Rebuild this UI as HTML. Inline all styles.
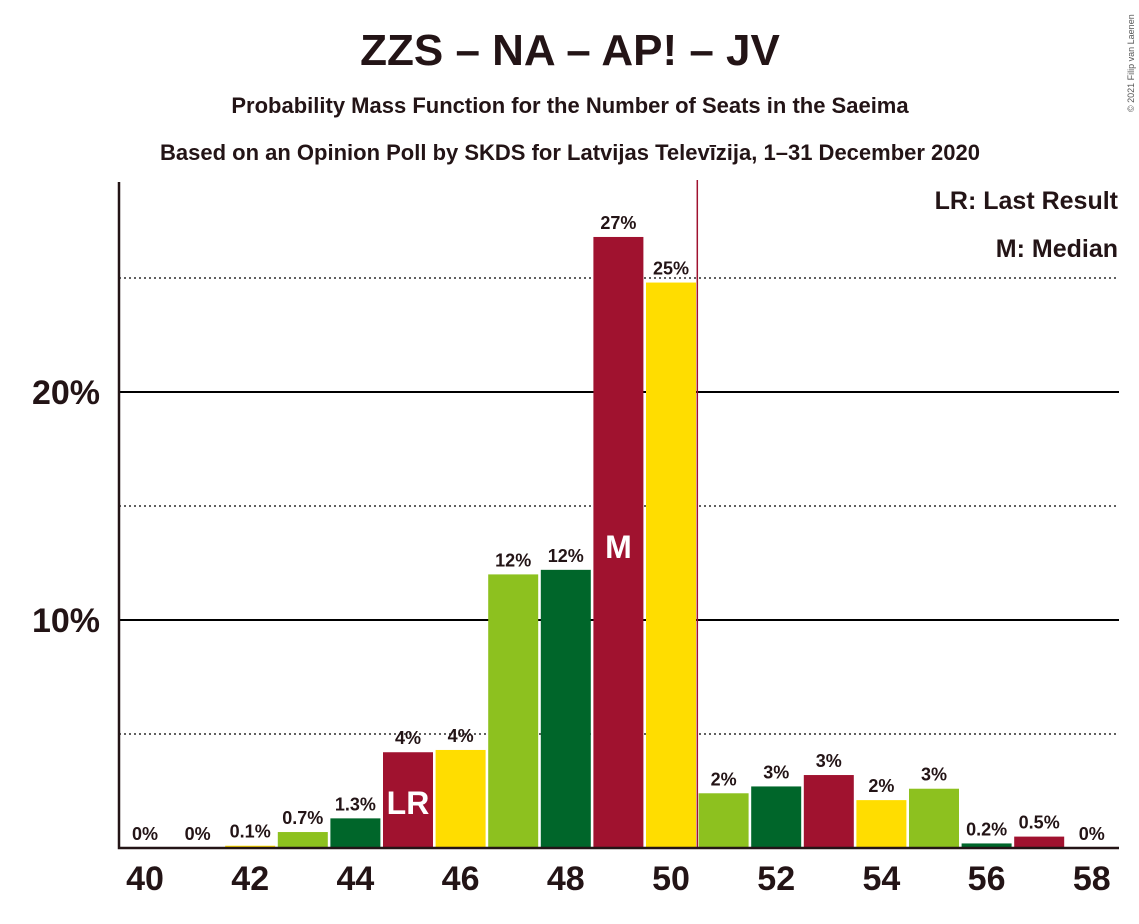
<!DOCTYPE html>
<html><head><meta charset="utf-8"><style>
body{margin:0;background:#fff;}
svg{display:block;font-family:"Liberation Sans",sans-serif;font-weight:bold;}
</style></head><body>
<svg id="chart" width="1139" height="924" xmlns="http://www.w3.org/2000/svg">
<text x="570" y="65" text-anchor="middle" font-size="44" fill="#231416">ZZS – NA – AP! – JV</text>
<text x="570" y="113" text-anchor="middle" font-size="22" fill="#231416">Probability Mass Function for the Number of Seats in the Saeima</text>
<text x="570" y="160" text-anchor="middle" font-size="22" fill="#231416">Based on an Opinion Poll by SKDS for Latvijas Televīzija, 1–31 December 2020</text>
<text transform="translate(1134,112) rotate(-90)" font-size="9" font-weight="normal" fill="#555">© 2021 Filip van Laenen</text>
<g id="grid"></g>
<g id="bars"></g>
<g id="labels"></g>
<text x="1118" y="209" text-anchor="end" font-size="25" fill="#231416">LR: Last Result</text>
<text x="1118" y="257" text-anchor="end" font-size="25" fill="#231416">M: Median</text>
</svg>
<script>
const seats=[40,41,42,43,44,45,46,47,48,49,50,51,52,53,54,55,56,57,58];
const probs=[0,0,0.1,0.7,1.3,4.2,4.3,12.0,12.2,26.8,24.8,2.4,2.7,3.2,2.1,2.6,0.2,0.5,0];
const valueLabels=["0%","0%","0.1%","0.7%","1.3%","4%","4%","12%","12%","27%","25%","2%","3%","3%","2%","3%","0.2%","0.5%","0%"];
const xTicks=[40,42,44,46,48,50,52,54,56,58];
const yGrid=[5,10,15,20,25];
const yLabels=[10,20];
const lastResult=45, median=49;
const colors=["#FFDD00","#8DC11F","#00662A","#A0122F"];
const NS="http://www.w3.org/2000/svg";
const X=s=>145+(s-40)*52.6;
const Y=v=>848-v*22.8;
function mk(tag,attrs,parent,text){const e=document.createElementNS(NS,tag);for(const k in attrs)e.setAttribute(k,attrs[k]);if(text!==undefined)e.textContent=text;parent.appendChild(e);return e;}
const svg=document.getElementById('chart');
const grid=document.getElementById('grid'),bars=document.getElementById('bars'),labels=document.getElementById('labels');
yGrid.forEach(v=>{
  const solid=v%10===0;
  const l=mk('line',{x1:119,x2:1119,y1:Y(v),y2:Y(v),stroke:'#000','stroke-width':solid?2:1.3,'stroke-dasharray':solid?'':'2,3'},grid);
  
  
});
yLabels.forEach(v=>{
  const t=mk('text',{x:100,y:Y(v)+12,'text-anchor':'end','font-size':34,fill:'#231416'},labels,v+'%');
  
  
});
seats.forEach((s,i)=>{
  const v=probs[i];
  const col=colors[(s-42+400)%4];
  if(v>0){
    const r=mk('rect',{x:X(s)-25,y:Y(v),width:50,height:848-Y(v),fill:col},bars);
    
    
  }
  const t=mk('text',{x:X(s),y:Y(v)-8,'text-anchor':'middle','font-size':18,fill:'#231416'},labels,valueLabels[i]);
  
  
  if(s===lastResult){
    const m=mk('text',{x:X(s),y:Y(v)+62,'text-anchor':'middle','font-size':32,fill:'#fff'},labels,'LR');
    
    
  }
  if(s===median){
    const m=mk('text',{x:X(s),y:Y(v)+321,'text-anchor':'middle','font-size':32,fill:'#fff'},labels,'M');
    
    
  }
});
const lr=mk('line',{x1:X(50.5),x2:X(50.5),y1:180,y2:848,stroke:'#A0122F','stroke-width':1.5},svg);


const ax=mk('path',{d:'M119,182 V848 H1119',fill:'none',stroke:'#231416','stroke-width':2.5},svg);


xTicks.forEach(s=>{
  const t=mk('text',{x:X(s),y:890,'text-anchor':'middle','font-size':34,fill:'#231416'},svg,String(s));
  
  
});
</script>
</body></html>
